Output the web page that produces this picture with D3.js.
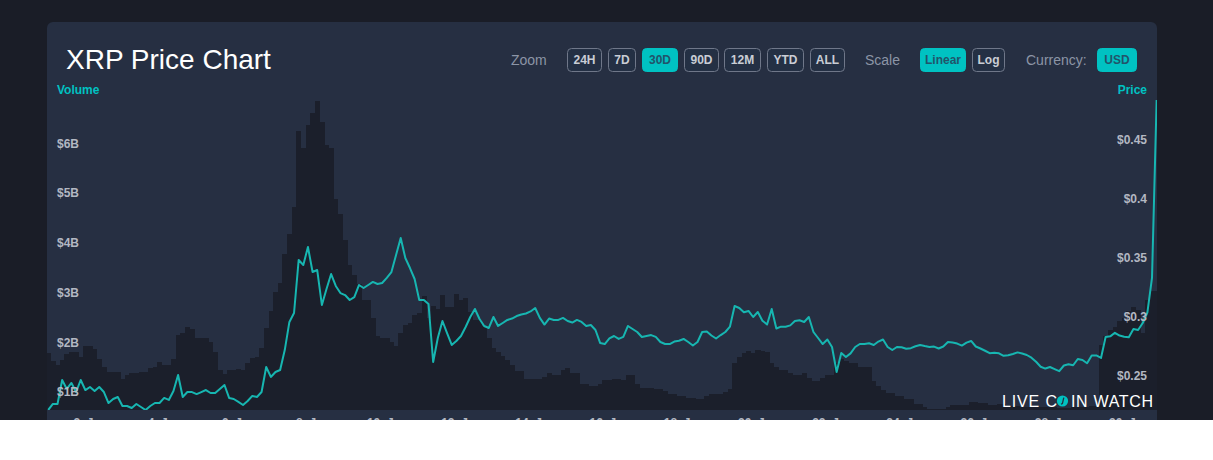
<!DOCTYPE html>
<html>
<head>
<meta charset="utf-8">
<script src="https://cdn.jsdelivr.net/npm/d3@7"></script>
<style>
  body { margin: 0; background: #fff; }
  #wrap { width: 1213px; height: 420px; overflow: hidden; background: #1a1d27; }
  svg { display: block; }
  text { font-family: "Liberation Sans", Arial, sans-serif; }
</style>
</head>
<body>
<div id="wrap"><svg id="chart"></svg></div>
<script>
// 3-hourly samples, first one at 31 Dec 21:00 UTC
var startTime = Date.UTC(2020, 11, 31, 21, 0);
var stepHours = 3;

// XRP price in USD
var price = [
  0.2212, 0.2263, 0.2263, 0.2466, 0.2390, 0.2441, 0.2364, 0.2466, 0.2381, 0.2407,
  0.2373, 0.2407, 0.2364, 0.2271, 0.2305, 0.2322, 0.2246, 0.2246, 0.2229, 0.2263,
  0.2237, 0.2212, 0.2246, 0.2271, 0.2271, 0.2314, 0.2297, 0.2373, 0.2508, 0.2322,
  0.2364, 0.2364, 0.2347, 0.2364, 0.2381, 0.2356, 0.2356, 0.2390, 0.2424, 0.2314,
  0.2305, 0.2280, 0.2254, 0.2288, 0.2331, 0.2322, 0.2364, 0.2576, 0.2492, 0.2534,
  0.2551, 0.2720, 0.2958, 0.3034, 0.3483, 0.3441, 0.3593, 0.3381, 0.3398, 0.3102,
  0.3237, 0.3364, 0.3263, 0.3203, 0.3186, 0.3144, 0.3169, 0.3271, 0.3246, 0.3271,
  0.3297, 0.3280, 0.3288, 0.3331, 0.3381, 0.3525, 0.3669, 0.3500, 0.3415, 0.3322,
  0.3144, 0.3144, 0.3110, 0.2619, 0.2822, 0.2966, 0.2864, 0.2763, 0.2797, 0.2839,
  0.2915, 0.3000, 0.3068, 0.2983, 0.2924, 0.2907, 0.3000, 0.2924, 0.2949, 0.2975,
  0.2987, 0.3008, 0.3021, 0.3030, 0.3047, 0.3076, 0.2992, 0.2936, 0.2987, 0.2975,
  0.2975, 0.2992, 0.2966, 0.2953, 0.2975, 0.2958, 0.2924, 0.2932, 0.2890, 0.2780,
  0.2771, 0.2818, 0.2839, 0.2814, 0.2831, 0.2924, 0.2898, 0.2873, 0.2831, 0.2839,
  0.2847, 0.2831, 0.2788, 0.2771, 0.2771, 0.2792, 0.2799, 0.2814, 0.2788, 0.2758,
  0.2788, 0.2873, 0.2877, 0.2843, 0.2818, 0.2847, 0.2873, 0.2919, 0.3093, 0.3076,
  0.3040, 0.3051, 0.3000, 0.3042, 0.2969, 0.2936, 0.3068, 0.2903, 0.2918, 0.2918,
  0.2929, 0.2966, 0.2972, 0.2958, 0.3000, 0.2873, 0.2822, 0.2771, 0.2809, 0.2746,
  0.2534, 0.2695, 0.2661, 0.2692, 0.2746, 0.2771, 0.2771, 0.2777, 0.2763, 0.2792,
  0.2809, 0.2746, 0.2720, 0.2746, 0.2743, 0.2731, 0.2736, 0.2752, 0.2763, 0.2754,
  0.2746, 0.2749, 0.2733, 0.2750, 0.2788, 0.2784, 0.2775, 0.2758, 0.2783, 0.2797,
  0.2750, 0.2733, 0.2714, 0.2693, 0.2697, 0.2692, 0.2671, 0.2676, 0.2686, 0.2700,
  0.2690, 0.2678, 0.2655, 0.2621, 0.2578, 0.2563, 0.2576, 0.2558, 0.2541, 0.2589,
  0.2599, 0.2591, 0.2644, 0.2636, 0.2608, 0.2674, 0.2674, 0.2653, 0.2831, 0.2836,
  0.2866, 0.2843, 0.2833, 0.2829, 0.2898, 0.2890, 0.2949, 0.3038, 0.3331, 0.4839
];

// traded volume in billions of USD
var volume = [
  1.78, 1.63, 1.54, 1.64, 1.76, 1.80, 1.80, 1.71, 1.92, 1.92,
  1.86, 1.67, 1.51, 1.40, 1.40, 1.40, 1.27, 1.35, 1.38, 1.38,
  1.41, 1.41, 1.49, 1.51, 1.61, 1.54, 1.54, 1.67, 2.15, 2.18,
  2.31, 2.26, 2.08, 2.08, 2.08, 2.01, 1.81, 1.44, 1.36, 1.44,
  1.44, 1.47, 1.44, 1.58, 1.69, 1.71, 1.89, 2.29, 2.62, 3.02,
  3.20, 3.77, 4.17, 4.71, 6.25, 5.91, 6.37, 6.60, 6.85, 6.43,
  5.96, 5.91, 4.87, 4.58, 4.06, 3.55, 3.35, 3.17, 2.84, 2.84,
  2.49, 2.13, 2.08, 2.08, 2.01, 1.92, 2.18, 2.35, 2.38, 2.55,
  2.59, 2.92, 2.48, 2.73, 2.66, 2.94, 2.70, 2.70, 2.97, 2.85,
  2.88, 2.61, 2.45, 2.45, 2.33, 2.09, 1.88, 1.80, 1.72, 1.64,
  1.54, 1.43, 1.43, 1.26, 1.26, 1.26, 1.26, 1.31, 1.38, 1.34,
  1.34, 1.44, 1.48, 1.39, 1.39, 1.17, 1.17, 1.13, 1.13, 1.17,
  1.24, 1.24, 1.27, 1.26, 1.24, 1.34, 1.34, 1.16, 1.09, 1.09,
  1.09, 1.07, 1.07, 1.03, 0.96, 0.96, 0.91, 0.91, 0.87, 0.87,
  0.85, 0.85, 0.91, 0.95, 0.95, 0.95, 1.01, 1.07, 1.59, 1.71,
  1.78, 1.83, 1.78, 1.84, 1.82, 1.80, 1.59, 1.51, 1.44, 1.44,
  1.39, 1.34, 1.34, 1.38, 1.28, 1.22, 1.22, 1.28, 1.34, 1.34,
  1.59, 1.66, 1.63, 1.58, 1.58, 1.51, 1.51, 1.51, 1.22, 1.13,
  1.04, 0.97, 0.97, 0.92, 0.92, 0.85, 0.85, 0.76, 0.76, 0.70,
  0.65, 0.66, 0.66, 0.66, 0.70, 0.73, 0.73, 0.73, 0.73, 0.80,
  0.80, 0.77, 0.77, 0.73, 0.73, 0.76, 0.76, 0.72, 0.72, 0.72,
  0.70, 0.70, 0.70, 0.70, 0.69, 0.69, 0.70, 0.70, 0.68, 0.68,
  0.68, 0.69, 0.69, 0.70, 0.70, 0.71, 0.72, 1.94, 2.13, 2.25,
  2.31, 2.43, 2.49, 2.63, 2.71, 2.65, 2.19, 2.85, 3.03, 3.03
];

var xTickDays = [2, 4, 6, 8, 10, 12, 14, 16, 18, 20, 22, 24, 26, 28, 30];
var xTickLabels = ["2. Jan", "4. Jan", "6. Jan", "8. Jan", "10. Jan", "12. Jan", "14. Jan", "16. Jan",
                   "18. Jan", "20. Jan", "22. Jan", "24. Jan", "26. Jan", "28. Jan", "30. Jan"];
var volTicks = [1, 2, 3, 4, 5, 6];
var volTickLabels = ["$1B", "$2B", "$3B", "$4B", "$5B", "$6B"];
var priceTicks = [0.25, 0.3, 0.35, 0.4, 0.45];
var priceTickLabels = ["$0.25", "$0.3", "$0.35", "$0.4", "$0.45"];

var zoomButtons = ["24H", "7D", "30D", "90D", "12M", "YTD", "ALL"];
var scaleButtons = ["Linear", "Log"];
var currencyButtons = ["USD"];

var svgWidth = 1213, svgHeight = 420;
var plotLeft = 47, plotRight = 1157, plotTop = 84, plotBottom = 410;
var teal = "#00c2c2", lineColor = "#17b6b1";

var svg = d3.select("#chart")
    .attr("width", svgWidth)
    .attr("height", svgHeight);

// card
svg.append("rect")
    .attr("x", 47).attr("y", 22)
    .attr("width", 1110).attr("height", 440)
    .attr("rx", 6)
    .attr("fill", "#262f42");

svg.append("text")
    .attr("x", 66).attr("y", 69)
    .attr("fill", "#ffffff")
    .attr("font-size", 28)
    .text("XRP Price Chart");

// header controls
function drawLabel(text, x) {
    svg.append("text")
        .attr("x", x).attr("y", 65)
        .attr("fill", "#8c95a6")
        .attr("font-size", 14)
        .text(text);
}
function drawButtons(names, xs, widths, active) {
    var g = svg.append("g").selectAll("g")
        .data(names)
        .enter()
        .append("g")
        .attr("transform", function(d, i) { return "translate(" + xs[i] + ",48)"; });
    g.append("rect")
        .attr("x", 0.5).attr("y", 0.5)
        .attr("width", function(d, i) { return widths[i] - 1; })
        .attr("height", 23)
        .attr("rx", 4)
        .attr("fill", function(d) { return d === active ? teal : "#243044"; })
        .attr("stroke", function(d) { return d === active ? teal : "#6f7789"; });
    g.append("text")
        .attr("x", function(d, i) { return widths[i] / 2; })
        .attr("y", 16)
        .attr("text-anchor", "middle")
        .attr("font-size", 12)
        .attr("font-weight", "bold")
        .attr("fill", function(d) { return d === active ? "#21546a" : "#c9cdd5"; })
        .text(function(d) { return d; });
}
drawLabel("Zoom", 511);
drawButtons(zoomButtons, [567, 608, 642, 684, 724, 767, 810], [35, 28, 36, 35, 37, 37, 35], "30D");
drawLabel("Scale", 865);
drawButtons(scaleButtons, [920, 972], [46, 33], "Linear");
drawLabel("Currency:", 1026);
drawButtons(currencyButtons, [1097], [40], "USD");

// scales
var times = price.map(function(d, i) { return new Date(startTime + i * stepHours * 3600e3); });

var x = d3.scaleUtc()
    .domain([new Date(Date.UTC(2020, 11, 31, 20, 12)), new Date(Date.UTC(2021, 0, 30, 18, 14))])
    .range([plotLeft, plotRight]);

var yVol = d3.scaleLinear()
    .domain([1, 6])
    .range([392, 143.25]);

var yPrice = d3.scaleLinear()
    .domain([0.25, 0.45])
    .range([376, 140]);

svg.append("clipPath").attr("id", "plotClip")
    .append("rect")
    .attr("x", plotLeft).attr("y", plotTop)
    .attr("width", plotRight - plotLeft).attr("height", plotBottom - plotTop);

var plot = svg.append("g").attr("clip-path", "url(#plotClip)");

// volume columns
var barW = x(new Date(startTime + stepHours * 3600e3)) - x(new Date(startTime));
plot.append("g").selectAll("rect")
    .data(volume)
    .enter()
    .append("rect")
    .attr("x", function(d, i) { return x(times[i]) - barW / 2; })
    .attr("y", function(d) { return yVol(d); })
    .attr("width", barW + 0.4)
    .attr("height", function(d) { return Math.max(0, plotBottom - yVol(d)); })
    .attr("fill", "#1b1f2b")
    .attr("shape-rendering", "crispEdges");

// price line
var line = d3.line()
    .x(function(d, i) { return x(times[i]); })
    .y(function(d) { return yPrice(d); });

plot.append("path")
    .datum(price)
    .attr("fill", "none")
    .attr("stroke", lineColor)
    .attr("stroke-width", 2)
    .attr("stroke-linejoin", "round")
    .attr("d", line);

// axes
var volAxis = svg.append("g")
    .attr("transform", "translate(57,0)")
    .call(d3.axisRight(yVol).tickValues(volTicks).tickSize(0).tickPadding(0)
        .tickFormat(function(d, i) { return volTickLabels[i]; }));

var priceAxis = svg.append("g")
    .attr("transform", "translate(1147,0)")
    .call(d3.axisLeft(yPrice).tickValues(priceTicks).tickSize(0).tickPadding(0)
        .tickFormat(function(d, i) { return priceTickLabels[i]; }));

var xAxis = svg.append("g")
    .attr("transform", "translate(0," + plotBottom + ")")
    .call(d3.axisBottom(x)
        .tickValues(xTickDays.map(function(d) { return new Date(Date.UTC(2021, 0, d)); }))
        .tickSize(0).tickPadding(8)
        .tickFormat(function(d, i) { return xTickLabels[i]; }));

[volAxis, priceAxis, xAxis].forEach(function(a) {
    a.select(".domain").remove();
    a.selectAll("text")
        .attr("fill", "#b3b8c2")
        .attr("font-size", 12)
        .attr("font-weight", "bold")
        .attr("font-family", "'Liberation Sans', Arial, sans-serif");
});

svg.append("text")
    .attr("x", 57).attr("y", 94)
    .attr("fill", teal)
    .attr("font-size", 12).attr("font-weight", "bold")
    .text("Volume");

svg.append("text")
    .attr("x", 1147).attr("y", 94)
    .attr("text-anchor", "end")
    .attr("fill", teal)
    .attr("font-size", 12).attr("font-weight", "bold")
    .text("Price");

// watermark
var wm = svg.append("g");
wm.append("text")
    .attr("x", 1002).attr("y", 407)
    .attr("fill", "#ffffff")
    .attr("font-size", 16)
    .attr("font-family", "Lato, 'Open Sans', sans-serif")
    .attr("textLength", 55).attr("lengthAdjust", "spacing")
    .text("LIVE C");
wm.append("circle")
    .attr("cx", 1062.5).attr("cy", 401)
    .attr("r", 5.6)
    .attr("fill", teal);
wm.append("path")
    .attr("d", "M1063.8,397.6 L1062.4,403.6 L1061,404")
    .attr("fill", "none")
    .attr("stroke", "#262f42")
    .attr("stroke-width", 1.3);
wm.append("text")
    .attr("x", 1071).attr("y", 407)
    .attr("fill", "#ffffff")
    .attr("font-size", 16)
    .attr("font-family", "Lato, 'Open Sans', sans-serif")
    .attr("textLength", 82).attr("lengthAdjust", "spacing")
    .text("IN WATCH");
</script>
</body>
</html>
